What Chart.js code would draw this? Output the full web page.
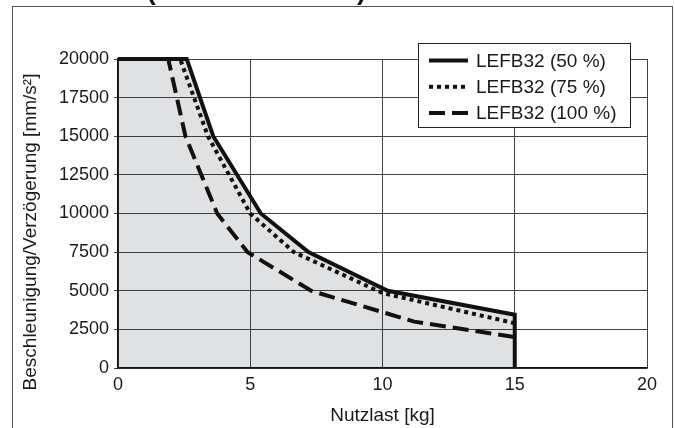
<!DOCTYPE html>
<html>
<head>
<meta charset="utf-8">
<script src="https://cdn.jsdelivr.net/npm/chart.js@4.4.0/dist/chart.umd.min.js"></script>
<style>
  html, body { margin: 0; padding: 0; background: #fff; }
  #wrap { position: relative; width: 675px; height: 428px; overflow: hidden; font-family: "Liberation Sans", Arial, sans-serif; }
  #frame { position: absolute; left: 12px; top: 6px; width: 659px; height: 440px; border: 1px solid #555; border-bottom: none; }
  .paren { position: absolute; top: -22px; font-weight: bold; font-size: 26px; line-height: 26px; color: #111; }
  canvas { position: absolute; left: 0; top: 0; }
</style>
</head>
<body>
<div id="wrap">
  <div id="frame"></div>
  <span class="paren" style="left:147px">(</span>
  <span class="paren" style="left:357px">)</span>
  <canvas id="chart" width="675" height="428"></canvas>
</div>
<script>
// payload [kg] vs. acceleration/deceleration [mm/s²]
const X_TICKS = [0, 5, 10, 15, 20];
const Y_TICKS = [0, 2500, 5000, 7500, 10000, 12500, 15000, 17500, 20000];

const LABELS = ["LEFB32 (50 %)", "LEFB32 (75 %)", "LEFB32 (100 %)"];

const load50 = [0, 2.6, 3.6, 5.4, 7.2, 10.2, 15, 15];
const acc50 = [20000, 20000, 15000, 10000, 7500, 5000, 3450, 0];

const load75 = [0, 2.35, 3.4, 5.0, 6.65, 10, 15];
const acc75 = [20000, 20000, 15000, 10000, 7500, 4850, 2900];

const load100 = [0, 1.9, 2.55, 3.75, 4.9, 7.3, 11.2, 15];
const acc100 = [20000, 20000, 15000, 10000, 7500, 5000, 3000, 2000];

const Y_TITLE = "Beschleunigung/Verzögerung [mm/s²]";
const X_TITLE = "Nutzlast [kg]";

const FONT = '"Liberation Sans", Arial, sans-serif';

function pts(xs, ys) {
  return xs.map((x, i) => ({ x, y: ys[i] }));
}

// legend box sitting inside the plot, top right
const boxLegend = {
  id: "boxLegend",
  afterDraw(chart) {
    const ctx = chart.ctx;
    ctx.save();
    ctx.fillStyle = "#fff";
    ctx.fillRect(418.5, 43.5, 212, 84);
    ctx.strokeStyle = "#222";
    ctx.lineWidth = 1;
    ctx.strokeRect(418.5, 43.5, 212, 84);
    ctx.font = "19px " + FONT;
    ctx.textBaseline = "middle";
    chart.data.datasets.forEach((ds, i) => {
      const y = 60.5 + i * 26.3;
      ctx.beginPath();
      ctx.setLineDash(ds.borderDash || []);
      ctx.lineCap = "butt";
      ctx.lineWidth = ds.borderWidth;
      ctx.strokeStyle = ds.borderColor;
      ctx.moveTo(429, y);
      ctx.lineTo(468, y);
      ctx.stroke();
      ctx.setLineDash([]);
      ctx.fillStyle = "#1a1a1a";
      ctx.fillText(ds.label, 476, y + 1);
    });
    ctx.restore();
  },
};

// rotated y title, drawn a bit below the plot centre
const sideTitle = {
  id: "sideTitle",
  afterDraw(chart) {
    const ctx = chart.ctx;
    ctx.save();
    ctx.translate(31, 232);
    ctx.rotate(-Math.PI / 2);
    ctx.font = "19px " + FONT;
    ctx.fillStyle = "#1a1a1a";
    ctx.textAlign = "center";
    ctx.textBaseline = "middle";
    ctx.fillText(Y_TITLE, 0, 0);
    ctx.restore();
  },
};

const lineBase = {
  borderColor: "#111",
  borderWidth: 4,
  pointRadius: 0,
  tension: 0,
  clip: 6,
  showLine: true,
};

new Chart(document.getElementById("chart"), {
  type: "scatter",
  data: {
    datasets: [
      {
        ...lineBase,
        label: LABELS[0],
        data: pts(load50, acc50),
        fill: "origin",
        backgroundColor: "rgba(17,24,40,0.13)",
      },
      {
        ...lineBase,
        label: LABELS[1],
        data: pts(load75, acc75),
        borderDash: [4, 4],
        fill: false,
      },
      {
        ...lineBase,
        label: LABELS[2],
        data: pts(load100, acc100),
        borderDash: [16, 7],
        fill: false,
      },
    ],
  },
  options: {
    responsive: false,
    animation: false,
    layout: { padding: { top: 59, right: 28, left: 0, bottom: 0 } },
    plugins: {
      legend: { display: false },
      tooltip: { enabled: false },
      filler: { drawTime: "beforeDatasetsDraw" },
    },
    scales: {
      x: {
        type: "linear",
        min: 0,
        max: 20,
        afterBuildTicks: (s) => { s.ticks = X_TICKS.map((v) => ({ value: v })); },
        afterFit: (s) => { s.height = 60; },
        grid: { color: "#444", lineWidth: 1, drawTicks: false },
        border: { color: "#111", width: 1.5 },
        ticks: {
          color: "#1a1a1a",
          padding: 6,
          font: { family: FONT, size: 18 },
          callback: (v) => String(v),
        },
        title: {
          display: true,
          text: X_TITLE,
          color: "#1a1a1a",
          font: { family: FONT, size: 19 },
          padding: { top: 0, bottom: 1 },
        },
      },
      y: {
        type: "linear",
        min: 0,
        max: 20000,
        afterBuildTicks: (s) => { s.ticks = Y_TICKS.map((v) => ({ value: v })); },
        afterFit: (s) => { s.width = 118; },
        grid: { color: "#444", lineWidth: 1, tickLength: 4 },
        border: { color: "#111", width: 1.5 },
        ticks: {
          color: "#1a1a1a",
          padding: 5,
          font: { family: FONT, size: 18 },
          callback: (v) => String(v),
        },
      },
    },
  },
  plugins: [boxLegend, sideTitle],
});
</script>
</body>
</html>
